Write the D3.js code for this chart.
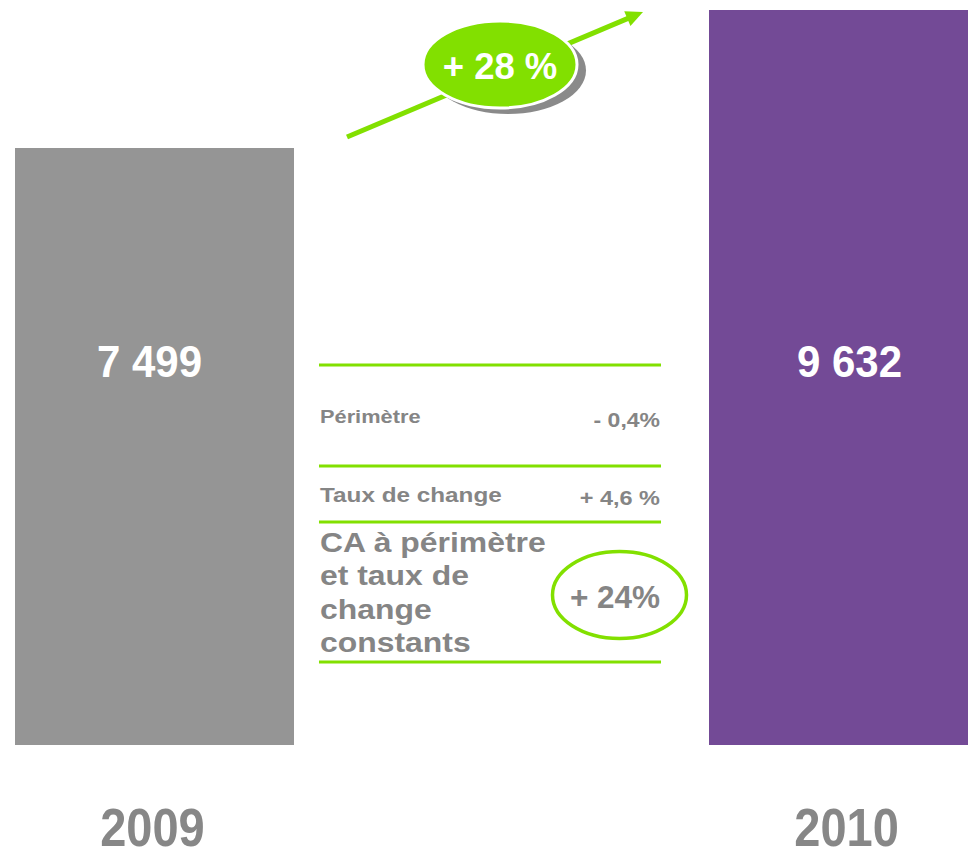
<!DOCTYPE html>
<html><head><meta charset="utf-8">
<script src="https://cdn.jsdelivr.net/npm/d3@7"></script>
<style>html,body{margin:0;padding:0;background:#fff;overflow:hidden}svg{display:block}text{font-family:"Liberation Sans",Arial,sans-serif;font-weight:bold}</style>
</head><body>
<svg id="c" width="968" height="853"></svg>
<script>
const years = ["2009", "2010"];
const values = [7499, 9632];
const valueLabels = ["7 499", "9 632"];
const barColors = ["#959595", "#734a96"];
const growthLabel = "+ 28 %";
const rowLabels = ["Périmètre", "Taux de change"];
const rowValues = ["- 0,4%", "+ 4,6 %"];
const totalLabelLines = ["CA à périmètre", "et taux de", "change", "constants"];
const totalValue = "+ 24%";

const GREEN = "#82e000", GREYTXT = "#858585";
const svg = d3.select("#c");

const x = d3.scaleBand().domain(years).range([15, 988]).paddingInner(0.598).paddingOuter(0);
const y = d3.scaleLinear().domain([-1728, 9632]).range([745, 10]);

function scaledText(sel, px, py, sy) {
  return sel.attr("transform", `translate(${px},${py}) scale(1,${sy})`);
}

// bars
svg.selectAll("rect.bar").data(values).join("rect").attr("class","bar")
  .attr("x", (d,i) => x(years[i])).attr("width", x.bandwidth())
  .attr("y", d => y(d)).attr("height", d => y(-1728) - y(d))
  .attr("fill", (d,i) => barColors[i]);

// value labels in bars
svg.selectAll("text.val").data(valueLabels).join("text").attr("class","val")
  .each(function(d,i){
    scaledText(d3.select(this), x(years[i]) + x.bandwidth()/2 - (i===0?5:-1), 377, 1.06);
  })
  .attr("text-anchor","middle").attr("font-size",42).attr("fill","#fff").text(d=>d);

// year labels
svg.selectAll("text.yr").data(years).join("text").attr("class","yr")
  .each(function(d){ scaledText(d3.select(this), x(d) + x.bandwidth()/2 - 2, 846, 1.14); })
  .attr("text-anchor","middle").attr("font-size",47).attr("fill","#878787").text(d=>d);

// growth arrow
const a0 = [347,137], a1 = [643,12];
const ang = Math.atan2(a1[1]-a0[1], a1[0]-a0[0]);
const headL = 17, headW = 8;
const base = [a1[0]-headL*Math.cos(ang), a1[1]-headL*Math.sin(ang)];
svg.append("line").attr("x1",a0[0]).attr("y1",a0[1]).attr("x2",base[0]+2*Math.cos(ang)).attr("y2",base[1]+2*Math.sin(ang))
  .attr("stroke",GREEN).attr("stroke-width",5);
svg.append("path").attr("d", d3.line()([
  a1,
  [base[0]-headW*Math.sin(ang), base[1]+headW*Math.cos(ang)],
  [base[0]+headW*Math.sin(ang), base[1]-headW*Math.cos(ang)]
]) + "Z").attr("fill",GREEN);

// growth bubble
svg.append("ellipse").attr("cx",508).attr("cy",70.5).attr("rx",78).attr("ry",43.5).attr("fill","#8a8a8a");
svg.append("ellipse").attr("cx",500).attr("cy",64.5).attr("rx",77).attr("ry",43.5).attr("fill",GREEN)
  .attr("stroke","#fff").attr("stroke-width",3);
svg.append("text").attr("x",500).attr("y",79).attr("text-anchor","middle").attr("font-size",36.5)
  .attr("fill","#fff").text(growthLabel);

// table lines
const lineYs = [365, 466, 522, 662];
svg.selectAll("line.rule").data(lineYs).join("line").attr("class","rule")
  .attr("x1",319).attr("x2",661).attr("y1",d=>d).attr("y2",d=>d)
  .attr("stroke",GREEN).attr("stroke-width",3);

// rows
const rowLabelY = [423, 502], rowValueY = [427, 505];
const rowLabelSize = [21.8, 24.3], rowValueSize = [23, 23.5];
const rowLabelSY = [0.83, 0.85], rowValueSY = [0.86, 0.88];
rowLabels.forEach((t,i) => {
  scaledText(svg.append("text"), 320, rowLabelY[i], rowLabelSY[i])
    .attr("font-size",rowLabelSize[i]).attr("fill",GREYTXT).text(t);
  scaledText(svg.append("text"), 660, rowValueY[i], rowValueSY[i])
    .attr("text-anchor","end").attr("font-size",rowValueSize[i]).attr("fill",GREYTXT).text(rowValues[i]);
});

// total block
totalLabelLines.forEach((t,i) => {
  scaledText(svg.append("text"), 320, 552 + i*33.4, 0.875)
    .attr("font-size",31.9).attr("fill",GREYTXT).text(t);
});
svg.append("ellipse").attr("cx",619.5).attr("cy",595).attr("rx",67).attr("ry",43.5)
  .attr("fill","none").attr("stroke",GREEN).attr("stroke-width",3.5);
svg.append("text").attr("x",615).attr("y",608).attr("text-anchor","middle").attr("font-size",31.5)
  .attr("fill",GREYTXT).text(totalValue);
</script>
</body></html>
